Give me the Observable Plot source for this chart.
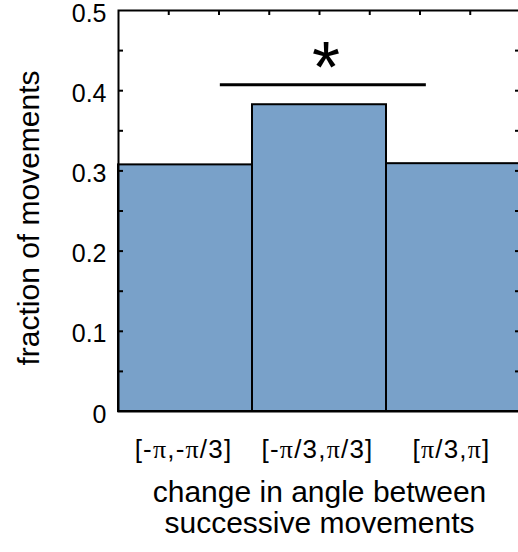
<!DOCTYPE html>
<html>
<head>
<meta charset="utf-8">
<script src="https://cdn.jsdelivr.net/npm/d3@7"></script>
<script src="https://cdn.jsdelivr.net/npm/@observablehq/plot@0.6"></script>
<style>
  html, body { margin: 0; padding: 0; background: #fff; }
  #chart { width: 518px; height: 552px; overflow: hidden; }
</style>
</head>
<body>
<div id="chart"></div>
<script>
// ---- data ----
const binEdges = [-Math.PI, -Math.PI / 3, Math.PI / 3, Math.PI];
const binLabels = ["[-π,-π/3]", "[-π/3,π/3]", "[π/3,π]"];
const fractions = [0.3075, 0.3825, 0.309];
const yTickValues = [0, 0.1, 0.2, 0.3, 0.4, 0.5];
const yMinorTicks = [0.05, 0.1, 0.15, 0.2, 0.25, 0.3, 0.35, 0.4, 0.45];
const xTopTicks = [-3, -2, -1, 0, 1, 2, 3].map(k => k * Math.PI / 4);
const sigX1 = -1.55, sigX2 = 1.67, sigY = 0.4075, starX = 0.1;
const xTitle = "change in angle between\nsuccessive movements";
const yTitle = "fraction of movements";

// ---- layout ----
const W = 518, H = 552;
const mL = 118, mR = -2, mT = 10, mB = 141;
const frameW = W - mL - mR, frameH = H - mT - mB;
const tickLen = 5;

const bars = fractions.map((f, i) => ({x1: binEdges[i], x2: binEdges[i + 1], y: f, label: binLabels[i], c: (binEdges[i] + binEdges[i + 1]) / 2}));

const chart = Plot.plot({
  width: W, height: H,
  marginLeft: mL, marginRight: mR, marginTop: mT, marginBottom: mB,
  style: {fontFamily: "'Liberation Sans', Arial, sans-serif", color: "#000", background: "#fff", overflow: "visible"},
  x: {domain: [-Math.PI, Math.PI], axis: null},
  y: {domain: [0, 0.5], axis: null},
  marks: [
    Plot.rectY(bars, {x1: "x1", x2: "x2", y: "y", fill: "#79a1c9", stroke: "#000", strokeWidth: 2}),
    Plot.frame({stroke: "#000", strokeWidth: 2}),
    Plot.tickY(yMinorTicks, {y: d => d, insetRight: frameW - tickLen, stroke: "#000", strokeWidth: 2}),
    Plot.tickY(yMinorTicks, {y: d => d, insetLeft: frameW - tickLen, stroke: "#000", strokeWidth: 2}),
    Plot.tickX(xTopTicks, {x: d => d, insetBottom: frameH - tickLen, stroke: "#000", strokeWidth: 2}),
    Plot.axisY(yTickValues, {anchor: "left", label: null, tickSize: 0, tickPadding: 12, fontSize: 25, dy: 3, tickFormat: d => String(+d.toFixed(1))}),
    Plot.text(bars, {x: "c", y: 0, text: "label", fontSize: 26, lineAnchor: "bottom", dy: 46, dx: -2, style: "letter-spacing:1.2px"}),
    Plot.text([xTitle], {frameAnchor: "bottom", fontSize: 30, lineAnchor: "top", dy: 69, lineHeight: 1.02}),
    Plot.text([yTitle], {frameAnchor: "left", textAnchor: "middle", rotate: -90, fontSize: 30, lineAnchor: "bottom", dx: -80, dy: 7}),
    Plot.ruleY([sigY], {x1: sigX1, x2: sigX2, stroke: "#000", strokeWidth: 3}),
    Plot.text(["*"], {x: starX, y: sigY, fontSize: 72, lineAnchor: "bottom", dy: 7})
  ]
});

// letter-spacing for the bin labels (style option may be ignored)
chart.querySelectorAll("text").forEach(t => {
  if (/\[/.test(t.textContent)) t.setAttribute("letter-spacing", "1.2");
});

// render π with a serif glyph, as in the reference
chart.querySelectorAll("text").forEach(t => {
  const walker = document.createTreeWalker(t, NodeFilter.SHOW_TEXT);
  const nodes = [];
  while (walker.nextNode()) nodes.push(walker.currentNode);
  nodes.forEach(n => {
    if (!n.nodeValue.includes("π")) return;
    const parts = n.nodeValue.split("π");
    const frag = document.createDocumentFragment();
    parts.forEach((p, i) => {
      if (p) frag.appendChild(document.createTextNode(p));
      if (i < parts.length - 1) {
        const ts = document.createElementNS("http://www.w3.org/2000/svg", "tspan");
        ts.setAttribute("font-family", "'Liberation Serif', 'Times New Roman', serif");
        ts.textContent = "π";
        frag.appendChild(ts);
      }
    });
    n.parentNode.replaceChild(frag, n);
  });
});

document.getElementById("chart").appendChild(chart);
</script>
</body>
</html>
